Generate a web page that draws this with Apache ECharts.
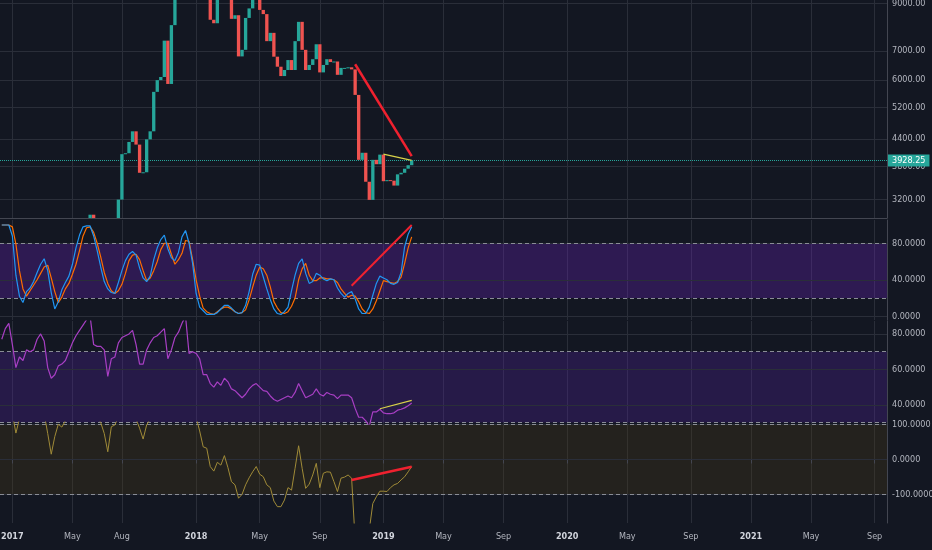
<!DOCTYPE html>
<html lang="en">
<head>
<meta charset="UTF-8">
<title>BTC weekly</title>
<script src="https://cdn.jsdelivr.net/npm/echarts@6.0.0/dist/echarts.min.js"></script>
<style type="text/css">
html, body { margin: 0; padding: 0; background: #131722; }
#main { width: 932px; height: 550px; }
</style>
</head>
<body>
<div id="main"></div>
<script type="text/javascript">
// weekly bars, first bar on this Monday
var startWeek = '2016-12-12';
var weekCount = 251;

// candles (open / close per week), body only
var opens = [780, 790, 890, 1000, 900, 830, 920, 920, 1010, 1000,
    1050, 1180, 1270, 1230, 970, 1040, 1140, 1180, 1210, 1250,
    1420, 1720, 1800, 2050, 2200, 2500, 2950, 2600, 2500, 2500,
    2500, 1950, 2750, 2750, 3195, 4060, 4080, 4330, 4580, 4270,
    3680, 3690, 4390, 4580, 5640, 6000, 6100, 7390, 5880, 8020,
    9700, 11500, 15000, 19000, 14000, 13800, 16500, 13600, 11600, 11800,
    8250, 8100, 10400, 9600, 11500, 9550, 8290, 8450, 6800, 7040,
    8330, 8760, 9350, 9650, 8690, 8500, 7370, 7700, 6790, 6440,
    6130, 6330, 6670, 6330, 7370, 8160, 7040, 6330, 6500, 6700,
    7250, 6250, 6500, 6700, 6600, 6620, 6170, 6400, 6400, 6420,
    6350, 5550, 3940, 4090, 3510, 3190, 3940, 3850, 4050, 3520,
    3540, 3530, 3440, 3650, 3680, 3760, 3830];
var closes = [790, 890, 1000, 900, 830, 920, 920, 1010, 1000, 1050,
    1180, 1270, 1230, 970, 1040, 1140, 1180, 1210, 1250, 1420,
    1720, 1800, 2050, 2200, 2500, 2950, 2600, 2500, 2500, 2500,
    1950, 2750, 2750, 3195, 4060, 4080, 4330, 4580, 4270, 3680,
    3690, 4390, 4580, 5640, 6000, 6100, 7390, 5880, 8020, 9700,
    11500, 15000, 19000, 14000, 13800, 16500, 13600, 11600, 11800, 8250,
    8100, 10400, 9600, 11500, 9550, 8290, 8450, 6800, 7040, 8330,
    8760, 9350, 9650, 8690, 8500, 7370, 7700, 6790, 6440, 6130,
    6330, 6670, 6330, 7370, 8160, 7040, 6330, 6500, 6700, 7250,
    6250, 6500, 6700, 6600, 6620, 6170, 6400, 6400, 6420, 6350,
    5550, 3940, 4090, 3510, 3190, 3940, 3850, 4050, 3520, 3540,
    3530, 3440, 3650, 3680, 3760, 3830, 3928.25];
var lastPrice = 3928.25;

// stoch rsi
var stochK = [100, 100, 100, 88, 45, 22, 15, 27, 31, 38,
    48, 57, 63, 50, 26, 8, 16, 29, 37, 44,
    57, 75, 89, 98, 99, 99, 88, 72, 54, 38,
    30, 26, 25, 37, 50, 61, 68, 71, 67, 53,
    42, 38, 44, 62, 75, 84, 89, 74, 64, 61,
    70, 87, 94, 80, 58, 25, 10, 6, 2, 2,
    2, 4, 8, 12, 12, 9, 5, 3, 4, 12,
    27, 46, 57, 56, 43, 30, 18, 8, 3, 2,
    5, 10, 28, 45, 58, 63, 47, 36, 38, 47,
    45, 41, 39, 41, 40, 31, 25, 21, 25, 27,
    19, 8, 3, 3, 10, 23, 36, 44, 42, 40,
    36, 35, 37, 48, 76, 90, 98];
var stochD = [100, 100, 100, 98, 79, 50, 30, 22, 28, 34,
    40, 47, 54, 56, 42, 27, 15, 21, 30, 36,
    46, 57, 72, 88, 97, 98, 92, 80, 65, 48,
    36, 28, 25, 28, 35, 47, 61, 67, 68, 62,
    50, 39, 42, 50, 60, 73, 80, 80, 68, 57,
    62, 69, 83, 82, 62, 40, 22, 9, 5, 3,
    2, 5, 8, 10, 10, 8, 5, 3, 4, 7,
    18, 32, 45, 54, 52, 45, 32, 16, 9, 4,
    3, 5, 11, 20, 40, 52, 58, 45, 39, 39,
    42, 42, 41, 41, 40, 37, 30, 25, 21, 23,
    22, 16, 8, 4, 3, 8, 17, 28, 39, 38,
    37, 36, 38, 43, 58, 75, 87];

// rsi
var rsi = [77, 83, 86, 74, 61, 67, 65, 71, 70, 71,
    77, 80, 76, 61, 55, 57, 62, 63, 65, 70,
    75, 79, 82, 85, 88, 90, 74, 73, 73, 71,
    56, 66, 67, 75, 78, 79, 80, 82, 74, 63,
    63, 71, 75, 78, 79, 81, 83, 66, 71, 78,
    81, 86, 90, 69, 70, 69, 66, 57, 57, 52,
    50, 53, 51, 55, 53, 49, 48, 46, 44, 46,
    49, 51, 52, 50, 48, 47.6, 45, 43, 42, 43,
    44, 45, 44, 47, 52, 48, 44, 45, 46, 49,
    46, 45, 47, 46, 45.5, 43.5, 45.5, 45.5, 45.5, 44,
    38, 33, 33, 31, 28, 36, 36, 37.5, 35.5, 35,
    35, 35.5, 37, 37.5, 38.3, 39.5, 41];

// cci
var cci = [140, 170, 180, 130, 75, 115, 125, 140, 130, 125,
    150, 160, 130, 74, 15, 65, 100, 92, 110, 140,
    180, 200, 210, 220, 200, 190, 140, 120, 105, 74,
    22, 93, 98, 120, 170, 160, 150, 140, 115, 89,
    58, 98, 115, 150, 170, 160, 175, 110, 140, 190,
    200, 230, 220, 160, 140, 120, 81, 36, 32, -20,
    -33, -8, -16, 11, -23, -63, -72, -110, -99, -72,
    -52, -35, -20, -42, -49, -72, -80, -118, -134, -134,
    -115, -80, -87, -25, 39, -25, -82, -70, -44, -11,
    -80, -39, -35, -36, -63, -91, -53, -50, -44, -53,
    -230, -330, -290, -260, -200, -125, -106, -90, -90, -91,
    -80, -72, -68, -58, -49, -35, -20];

// right scale labels
var priceTicks = [3200, 3800, 4400, 5200, 6000, 7000, 9000];
var stochTicks = [0, 40, 80];
var stochBand = [20, 80];
var rsiTicks = [40, 60, 80];
var rsiBand = [30, 70];
var cciTicks = [-100, 0, 100];
var cciBand = [-100, 100];

// time scale labels
var tickMonths = ['2017-01', '2017-05', '2017-08', '2018-01', '2018-05', '2018-09', '2019-01', '2019-05',
    '2019-09', '2020-01', '2020-05', '2020-09', '2021-01', '2021-05', '2021-09'];
var tickNames = ['2017', 'May', 'Aug', '2018', 'May', 'Sep', '2019', 'May',
    'Sep', '2020', 'May', 'Sep', '2021', 'May', 'Sep'];

// drawn trend lines, [week index, value]
var priceTrend = [[100, 6524], [116, 4020]];
var priceFlat = [[108, 4060], [116, 3930]];
var stochTrend = [[99, 33.5], [116, 100]];
var rsiTrend = [[107, 37.8], [116, 42.5]];
var cciTrend = [[99, -58], [116, -20.5]];

var FONT = '"Liberation Sans Narrow", "DejaVu Sans Condensed", "Liberation Sans", sans-serif';
var GRID_COLOR = '#2a2e39';
var EDGE_COLOR = '#434651';
var TEXT_COLOR = '#b2b5be';
var UP = '#26a69a';
var DOWN = '#ef5350';

// week categories and where the time labels go
var cats = [];
var t0 = Date.parse(startWeek);
for (var i = 0; i < weekCount; i++) {
    cats.push(new Date(t0 + i * 7 * 86400000).toISOString().slice(0, 10));
}
var tickAt = {};
for (var i = 0; i < cats.length; i++) {
    var m = cats[i].slice(0, 7);
    var prev = i > 0 ? cats[i - 1].slice(0, 7) : '';
    var k = tickMonths.indexOf(m);
    if (k >= 0 && m !== prev) tickAt[i] = tickNames[k];
}
function isTick(index) {
    return tickAt[index] !== undefined;
}

var candles = opens.map(function (o, i) {
    return [i, o, closes[i]];
});

// candle bodies, cut to the price pane
function renderCandle(params, api) {
    var x = api.value(0), o = api.value(1), c = api.value(2);
    var a = api.coord([x, o]);
    var b = api.coord([x, c]);
    var w = api.size([1, o])[0] * 0.94;
    var cs = params.coordSys;
    var top = Math.min(a[1], b[1]);
    var h = Math.max(Math.abs(a[1] - b[1]), 1);
    var shape = echarts.graphic.clipRectByRect(
        { x: a[0] - w / 2, y: top, width: w, height: h },
        { x: cs.x, y: cs.y, width: cs.width, height: cs.height });
    if (!shape) return null;
    return { type: 'rect', shape: shape, style: { fill: c >= o ? UP : DOWN } };
}

function pairs(list) {
    return list.map(function (p) { return [cats[p[0]], p[1]]; });
}

function scaleLines(ticks, digits, band) {
    var items = ticks.map(function (v) {
        return {
            yAxis: v,
            lineStyle: { color: GRID_COLOR, type: 'solid', width: 1 },
            label: { show: true, position: 'end', distance: 5, formatter: v.toFixed(digits),
                color: TEXT_COLOR, fontSize: 9, fontFamily: FONT }
        };
    });
    (band || []).forEach(function (v) {
        items.push({ yAxis: v, lineStyle: { color: '#8a8d96', type: [4, 3], width: 1 }, label: { show: false } });
    });
    return { silent: true, symbol: ['none', 'none'], z: 1, animation: false, data: items };
}

function bandArea(band, color) {
    return { silent: true, z: 0, itemStyle: { color: color },
        data: [[{ yAxis: band[0] }, { yAxis: band[1] }]] };
}

var grids = [
    { left: 0, right: 45, top: 0, height: 218 },
    { left: 0, right: 45, top: 220, height: 100 },
    { left: 0, right: 45, top: 321, height: 103 },
    { left: 0, right: 45, top: 422, height: 101 }
];
grids.forEach(function (g) { g.outerBoundsMode = 'none'; g.containLabel = false; });

var xAxes = [0, 1, 2, 3].map(function (gi) {
    var last = gi === 3;
    return {
        type: 'category',
        gridIndex: gi,
        data: cats,
        boundaryGap: true,
        axisLine: { show: gi !== 2, lineStyle: { color: EDGE_COLOR } },
        axisTick: { show: last, interval: isTick, length: 4, alignWithLabel: true, lineStyle: { color: EDGE_COLOR } },
        axisLabel: {
            show: last,
            interval: isTick,
            margin: 9,
            color: TEXT_COLOR,
            fontSize: 9,
            fontFamily: FONT,
            formatter: function (v, idx) {
                var t = tickAt[idx] || '';
                return /^\d{4}$/.test(t) ? '{y|' + t + '}' : t;
            },
            rich: { y: { fontWeight: 'bold', color: '#d1d4dc', fontSize: 9, fontFamily: FONT } }
        },
        splitLine: { show: true, interval: isTick, alignWithLabel: true, lineStyle: { color: GRID_COLOR } }
    };
});

function rightAxis(gi, min, max, type) {
    var a = {
        type: type || 'value',
        gridIndex: gi,
        position: 'right',
        min: min,
        max: max,
        axisLine: { show: true, lineStyle: { color: EDGE_COLOR } },
        axisTick: { show: false },
        axisLabel: { show: false },
        splitLine: { show: false }
    };
    if (type === 'log') a.logBase = 10;
    return a;
}

var yAxes = [
    rightAxis(0, 2899, 9157, 'log'),
    rightAxis(1, -4.1, 105.5),
    rightAxis(2, 29.2, 87.3),
    rightAxis(3, -180.4, 106.5)
];

function trendSeries(gi, data, color, width) {
    return {
        type: 'line', xAxisIndex: gi, yAxisIndex: gi, data: pairs(data),
        symbol: 'none', silent: true, z: 4,
        lineStyle: { color: color, width: width }
    };
}

var priceLines = scaleLines(priceTicks, 2);
priceLines.data.push({
    yAxis: lastPrice,
    lineStyle: { color: UP, type: 'dotted', width: 1 },
    label: { show: true, position: 'end', distance: 1, formatter: lastPrice.toFixed(2),
        color: '#ffffff', backgroundColor: UP, padding: [2, 4, 1, 4], fontSize: 9, fontFamily: FONT }
});
var priceTrendSeries = trendSeries(0, priceTrend, '#f0212f', 2.5);
priceTrendSeries.markLine = priceLines;

var myChart = echarts.init(document.getElementById('main'));
var option = {
    backgroundColor: '#131722',
    animation: false,
    grid: grids,
    xAxis: xAxes,
    yAxis: yAxes,
    series: [{
        type: 'custom',
        xAxisIndex: 0,
        yAxisIndex: 0,
        data: candles,
        encode: { x: 0, y: [1, 2] },
        renderItem: renderCandle,
        silent: true,
        z: 2
    },
    priceTrendSeries,
    trendSeries(0, priceFlat, '#d9d24a', 1.2),
    {
        type: 'line', xAxisIndex: 1, yAxisIndex: 1, data: stochD,
        symbol: 'none', z: 2, lineStyle: { color: '#ff6d00', width: 1.2 },
        markArea: bandArea(stochBand, 'rgba(109,33,194,0.3)'),
        markLine: scaleLines(stochTicks, 4, stochBand)
    }, {
        type: 'line', xAxisIndex: 1, yAxisIndex: 1, data: stochK,
        symbol: 'none', z: 3, lineStyle: { color: '#2196f3', width: 1.2 }
    },
    trendSeries(1, stochTrend, '#f0212f', 2),
    {
        type: 'line', xAxisIndex: 2, yAxisIndex: 2, data: rsi,
        symbol: 'none', z: 2, lineStyle: { color: '#a83fc4', width: 1.2 },
        markArea: bandArea(rsiBand, 'rgba(82,33,161,0.3)'),
        markLine: scaleLines(rsiTicks, 4, rsiBand)
    },
    trendSeries(2, rsiTrend, '#d9d24a', 1.2),
    {
        type: 'line', xAxisIndex: 3, yAxisIndex: 3, data: cci,
        symbol: 'none', z: 2, lineStyle: { color: '#a08b38', width: 1 },
        markArea: bandArea(cciBand, 'rgba(76,60,24,0.3)'),
        markLine: scaleLines(cciTicks, 4, cciBand)
    },
    trendSeries(3, cciTrend, '#f0212f', 2.5)
    ]
};
myChart.setOption(option);
</script>
</body>
</html>
